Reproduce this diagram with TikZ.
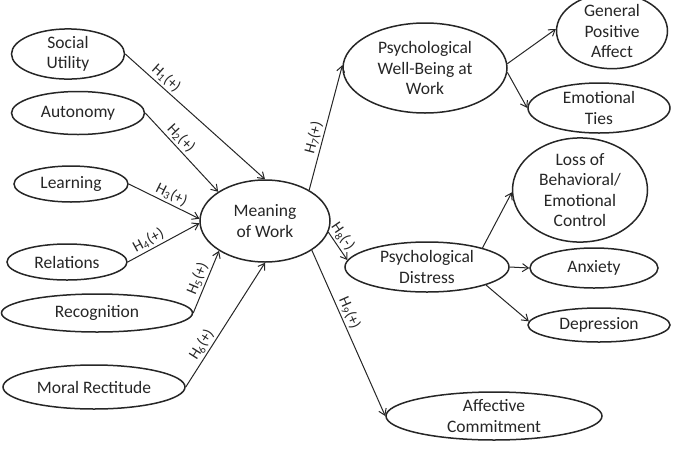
\documentclass[tikz,border=0pt]{standalone}
\usepackage{fontspec}
\setmainfont{Carlito}
\usetikzlibrary{shapes.geometric,arrows.meta}
\begin{document}
\begin{tikzpicture}[x=1pt,y=-1pt,
  box/.style={draw=black!85,line width=1.5pt,ellipse,inner sep=0pt,align=center,
    text=black!85,font=\fontsize{17.5}{20.5}\selectfont},
  link/.style={line width=1pt,draw=black!85,-{Straight Barb[length=6pt,width=8pt,line width=1pt]}},
  hlab/.style={sloped,above,inner sep=2pt,text=black!85,font=\fontsize{15.5}{17}\selectfont}]
\useasboundingbox (0,0) rectangle (678,456);
% left
\node[box,minimum width=113pt,minimum height=48pt] (su) at (68,54) {Social\\Utility};
\node[box,minimum width=133pt,minimum height=43pt] (au) at (78,113) {Autonomy};
\node[box,minimum width=114pt,minimum height=36pt] (le) at (71,184) {Learning};
\node[box,minimum width=120pt,minimum height=36pt] (re) at (67,262) {Relations};
\node[box,minimum width=191pt,minimum height=38pt] (rc) at (97,313) {Recognition};
\node[box,minimum width=182pt,minimum height=44pt] (mr) at (94,387) {Moral Rectitude};
% center
\node[box,minimum width=130pt,minimum height=82pt] (mw) at (265,221) {Meaning\\of Work};
% right
\node[box,minimum width=164pt,minimum height=90pt] (pw) at (425,68) {Psychological\\Well-Being at\\Work};
\node[box,minimum width=111pt,minimum height=68pt] (gp) at (612,31) {General\\Positive\\Affect};
\node[box,minimum width=142pt,minimum height=50pt] (et) at (599,108) {Emotional\\Ties};
\node[box,minimum width=135pt,minimum height=90pt] (lo) at (580,190) {Loss of\\Behavioral/\\Emotional\\Control};
\node[box,minimum width=164pt,minimum height=50pt] (pd) at (427,267) {Psychological\\Distress};
\node[box,minimum width=128pt,minimum height=40pt] (an) at (594,268) {Anxiety};
\node[box,minimum width=142pt,minimum height=34pt] (de) at (599,325) {Depression};
\node[box,minimum width=216pt,minimum height=48pt] (ac) at (494,416) {Affective\\Commitment};
% connectors
\draw[link] (su.east) -- node[hlab,pos=0.25]{H\textsubscript{1}(+)} (mw.90);
\draw[link] (au.east) -- node[hlab,pos=0.4]{H\textsubscript{2}(+)} (mw.148);
\draw[link] (le.east) -- node[hlab,pos=0.55]{H\textsubscript{3}(+)} (mw.178);
\draw[link] (re.east) -- node[hlab,pos=0.35]{H\textsubscript{4}(+)} (mw.182);
\draw[link] (rc.east) -- node[hlab,pos=0.5]{H\textsubscript{5}(+)} (mw.213);
\draw[link] (mr.east) -- node[hlab,pos=0.3]{H\textsubscript{6}(+)} (mw.270);
\draw[link] (mw.35) -- node[hlab,pos=0.4]{H\textsubscript{7}(+)} (pw.178);
\draw[link] (mw.-10) -- node[hlab,pos=0.35]{H\textsubscript{8}(-)} (pd.175);
\draw[link] (mw.-32) -- node[hlab,pos=0.4]{H\textsubscript{9}(+)} (ac.180);
\draw[link] (pw.3) -- (gp.178);
\draw[link] (pw.-3) -- (et.180);
\draw[link] (pd.19) -- (lo.182);
\draw[link] (pd.0) -- (an.180);
\draw[link] (pd.-17) -- (de.177);
\end{tikzpicture}
\end{document}
